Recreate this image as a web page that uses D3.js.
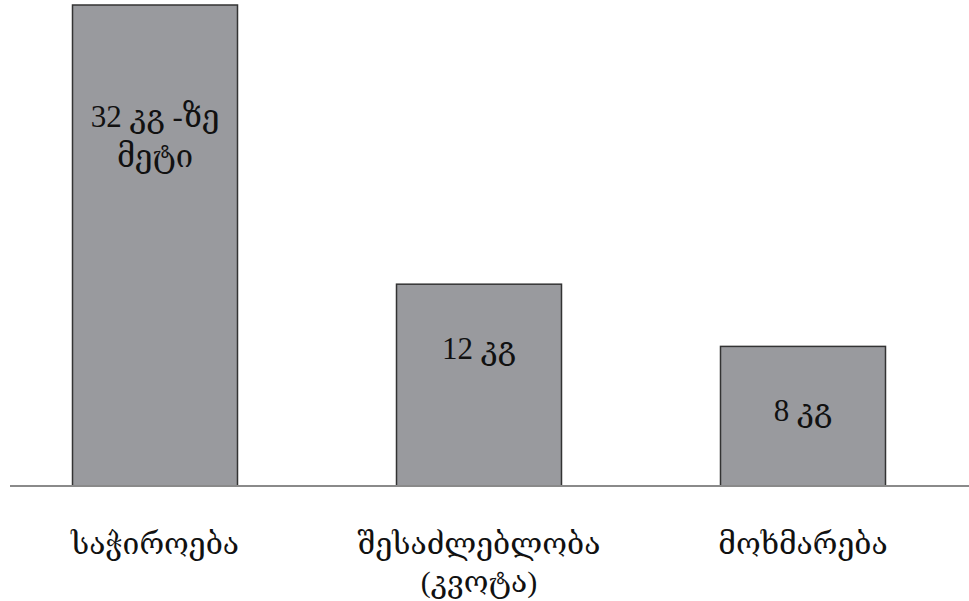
<!DOCTYPE html>
<html><head><meta charset="utf-8">
<script src="https://cdn.jsdelivr.net/npm/d3@7/dist/d3.min.js"></script>
<style>html,body{margin:0;padding:0;background:#fff;}svg{display:block;}</style>
</head><body><div id="chart"></div>
<script>
// Data
const categories = ["საჭიროება", "შესაძლებლობა\n(კვოტა)", "მოხმარება"];
const values = [28.6, 12, 8.3];            // bar heights as drawn (relative units)
const valueLabels = ["32 კგ -ზე\nმეტი", "12 კგ", "8 კგ"];

const W = 969, H = 601;
const svg = d3.select("#chart").append("svg").attr("width", W).attr("height", H);
const font = "'Liberation Serif','DejaVu Serif','DejaVu Sans',serif";

const x = d3.scalePoint().domain(categories).range([155, 803]);
const bw = 165;
const y = d3.scaleLinear().domain([0, d3.max(values)]).range([486, 5]);

// bars
svg.selectAll("rect.bar").data(categories).enter().append("rect")
  .attr("class", "bar")
  .attr("x", d => x(d) - bw / 2)
  .attr("y", (d, i) => y(values[i]))
  .attr("width", bw)
  .attr("height", (d, i) => y(0) - y(values[i]))
  .attr("fill", "#999a9e")
  .attr("stroke", "#333")
  .attr("stroke-width", 1.5);

// baseline
svg.append("line").attr("x1", 10).attr("x2", W).attr("y1", y(0)).attr("y2", y(0))
  .attr("stroke", "#8a8a8a").attr("stroke-width", 2);

// value labels
categories.forEach((c, i) => {
  const lines = valueLabels[i].split("\n");
  const y0 = y(values[i]) + 75 + (lines.length - 1) * 47;
  const t = svg.append("text").attr("text-anchor", "middle")
    .attr("font-family", font).attr("font-size", 31).attr("fill", "#111");
  lines.forEach((l, j) => {
    t.append("tspan").attr("x", x(c)).attr("y", y0 + j * 40).text(l);
  });
});

// category labels
categories.forEach(c => {
  const lines = c.split("\n");
  const t = svg.append("text").attr("text-anchor", "middle")
    .attr("font-family", font).attr("font-size", 30).attr("fill", "#111");
  lines.forEach((l, j) => {
    t.append("tspan").attr("x", x(c)).attr("y", 554 + j * 38).text(l);
  });
});
</script></body></html>
